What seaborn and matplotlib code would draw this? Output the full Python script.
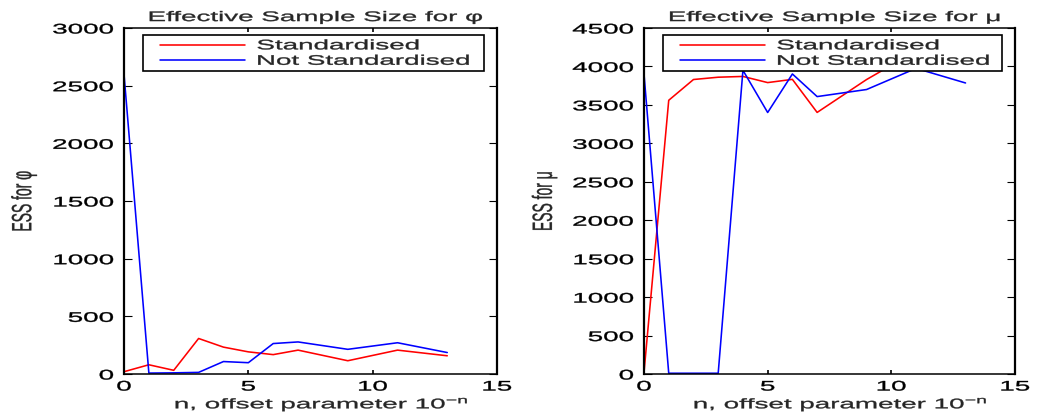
import matplotlib
matplotlib.use("Agg")
import matplotlib.pyplot as plt
import numpy as np
import pandas as pd
import seaborn as sns
from matplotlib import patheffects
from matplotlib.transforms import Affine2D
from matplotlib.lines import Line2D
from matplotlib.legend_handler import HandlerLine2D

# ---- data -------------------------------------------------------------
n_offset = [0, 1, 2, 3, 4, 5, 6, 7, 9, 11, 13]
ess_phi_std = [20, 80, 32, 308, 233, 192, 168, 207, 115, 207, 158]
ess_phi_raw = [2600, 8, 10, 14, 108, 98, 264, 278, 214, 271, 186]
ess_mu_std = [20, 3560, 3830, 3860, 3870, 3790, 3832, 3402, 3830, 4200, 4100]
ess_mu_raw = [3902, 10, 10, 10, 3950, 3401, 3902, 3608, 3700, 3975, 3785]

series_labels = ["Standardised", "Not Standardised"]
series_colors = ["#ff0000", "#0000ff"]
x_ticks = [0, 5, 10, 15]
phi_ticks = [0, 500, 1000, 1500, 2000, 2500, 3000]
mu_ticks = [0, 500, 1000, 1500, 2000, 2500, 3000, 3500, 4000, 4500]


class Widen(patheffects.AbstractPathEffect):
    """Draw a text path scaled along its own glyph axes about an anchor,
    with a thin outline in the text colour to give it more weight."""

    def __init__(self, sx=1.0, sy=1.0, fx=0.0, fy=0.0, stroke=0.25):
        super().__init__()
        self.sx, self.sy, self.fx, self.fy = sx, sy, fx, fy
        self.stroke = stroke

    def draw_path(self, renderer, gc, tpath, affine, rgbFace=None):
        ext = tpath.get_extents()
        ax0 = ext.x0 + self.fx * ext.width
        ay0 = ext.y0 + self.fy * ext.height
        pre = (Affine2D().translate(-ax0, -ay0)
               .scale(self.sx, self.sy).translate(ax0, ay0))
        gc0 = renderer.new_gc()
        gc0.copy_properties(gc)
        if rgbFace is not None and self.stroke > 0:
            gc0.set_foreground(rgbFace)
            gc0.set_linewidth(self.stroke)
        renderer.draw_path(gc0, tpath, pre + affine, rgbFace)
        gc0.restore()


WIDE = 2.0
FS = 10

sns.set_style("white")
plt.rcParams["font.family"] = ["Liberation Sans", "DejaVu Sans"]
plt.rcParams["mathtext.fontset"] = "custom"
plt.rcParams["mathtext.rm"] = "Liberation Sans"
plt.rcParams["mathtext.it"] = "Liberation Sans"

fig = plt.figure(figsize=(10.4, 4.2), dpi=100)
W, H = 1040.0, 420.0
ax_phi = fig.add_axes([124 / W, 1 - 374 / H, 373 / W, 346 / H])
ax_mu = fig.add_axes([644 / W, 1 - 374 / H, 371 / W, 346 / H])

panels = [
    (ax_phi, ess_phi_std, ess_phi_raw, phi_ticks, "\u03c6"),
    (ax_mu, ess_mu_std, ess_mu_raw, mu_ticks, "\u03bc"),
]

for ax, std, raw, yticks, sym in panels:
    df = pd.DataFrame({
        "n": n_offset * 2,
        "ess": std + raw,
        "series": [series_labels[0]] * len(n_offset) + [series_labels[1]] * len(n_offset),
    })
    sns.lineplot(data=df, x="n", y="ess", hue="series", hue_order=series_labels,
                 palette=series_colors, estimator=None, linewidth=1.15,
                 legend=False, ax=ax)

    ax.set_xlim(x_ticks[0], x_ticks[-1])
    ax.set_ylim(yticks[0], yticks[-1])
    ax.set_xticks(x_ticks)
    ax.set_yticks(yticks)

    for side in ("left", "right"):
        ax.spines[side].set_linewidth(1.6)
        ax.spines[side].set_color("black")
    for side in ("top", "bottom"):
        ax.spines[side].set_linewidth(1.1)
        ax.spines[side].set_color("black")

    ax.tick_params(axis="x", which="major", direction="in", top=True, bottom=True,
                   length=3, width=1.2, pad=4, labelsize=FS, colors="black")
    ax.tick_params(axis="y", which="major", direction="in", left=True, right=True,
                   length=5.5, width=0.8, pad=7.5, labelsize=FS, colors="black")

    for t in ax.xaxis.get_major_ticks():
        t.label1.set_path_effects([Widen(sx=WIDE, fx=0.5)])
    for t in ax.yaxis.get_major_ticks():
        t.label1.set_path_effects([Widen(sx=WIDE, fx=1.0)])

    ax.set_title(f"Effective Sample Size for {sym}", fontsize=FS, pad=5, x=0.515,
                 path_effects=[Widen(sx=WIDE, fx=0.5)])
    ax.set_xlabel(r"n, offset parameter 10$^{-\mathrm{n}}$", fontsize=FS,
                  path_effects=[Widen(sx=WIDE, fx=0.5)])
    ax.xaxis.set_label_coords(0.53, -0.06)
    ax.set_ylabel(f"ESS for {sym}", fontsize=FS,
                  path_effects=[Widen(sy=WIDE, fy=0.0)])
    ax.yaxis.set_label_coords(-0.233, 0.5)

    leg = ax.legend(handles=ax.get_lines()[:2], labels=series_labels,
                    loc="upper left", bbox_to_anchor=(0.051, 0.87, 0.915, 0.11),
                    mode="expand", borderaxespad=0, borderpad=0.25,
                    handlelength=7.1, handletextpad=0.86, labelspacing=0.1,
                    fontsize=FS, frameon=True, fancybox=False, framealpha=1,
                    edgecolor="black",
                    handler_map={Line2D: HandlerLine2D(xpad=0.97)})
    leg.get_frame().set_linewidth(1.2)
    for t in leg.get_texts():
        t.set_path_effects([Widen(sx=WIDE, fx=0.0)])

fig.savefig("out.png", dpi=100)
